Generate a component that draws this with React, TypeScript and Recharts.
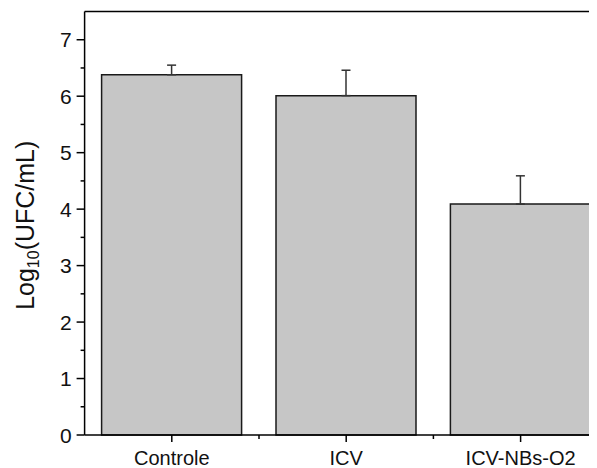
import { BarChart, Bar, XAxis, YAxis, ErrorBar, ReferenceLine, Label } from "recharts"

const categories = ["Controle", "ICV", "ICV-NBs-O2"]
const means = [6.38, 6.01, 4.09]
const errors = [0.17, 0.45, 0.5]
const yTicks = [0, 0.5, 1, 1.5, 2, 2.5, 3, 3.5, 4, 4.5, 5, 5.5, 6, 6.5, 7]

const data = categories.map((name, i) => ({ name, value: means[i], err: [0, errors[i]] }))

const FONT = '"Liberation Sans", Arial, sans-serif'
const INK = "#111"
const Y_TICK_SIZE = 8
const Y_TICK_MARGIN = 5
const X_TICK_SIZE = 7
const X_TICK_MARGIN = 9

function YTick(props: any) {
  const { x, y, payload } = props
  const v = payload.value
  const major = Number.isInteger(v)
  const ax = x + Y_TICK_SIZE + Y_TICK_MARGIN
  return (
    <g>
      <line x1={ax} x2={ax - (major ? Y_TICK_SIZE : 4)} y1={y} y2={y} stroke="#000" strokeWidth={1.5} />
      {major && (
        <text x={x} y={y} dy="0.36em" textAnchor="end" fontSize={21} fontFamily={FONT} fill={INK}>
          {v}
        </text>
      )}
    </g>
  )
}

function XTick(props: any) {
  const { x, y, payload, index, width, visibleTicksCount } = props
  const ay = y - X_TICK_SIZE - X_TICK_MARGIN
  const half = width / visibleTicksCount / 2
  return (
    <g>
      <line x1={x} x2={x} y1={ay} y2={ay + X_TICK_SIZE} stroke="#000" strokeWidth={1.5} />
      {index > 0 && <line x1={x - half} x2={x - half} y1={ay} y2={ay + 4} stroke="#000" strokeWidth={1.5} />}
      <text x={x} y={y} dy="0.71em" textAnchor="middle" fontSize={20} fontFamily={FONT} fill={INK}>
        {payload.value}
      </text>
    </g>
  )
}

function YTitle(props: any) {
  const { viewBox } = props
  const cx = 25.5
  const cy = viewBox.y + viewBox.height / 2 + 2
  return (
    <text
      x={cx}
      y={cy}
      transform={`rotate(-90, ${cx}, ${cy})`}
      textAnchor="middle"
      fontSize={25}
      fontFamily={FONT}
      fill={INK}
    >
      Log
      <tspan fontSize={16} dy={5}>10</tspan>
      <tspan dy={-5}>(UFC/mL)</tspan>
    </text>
  )
}

export default function App() {
  return (
    <div style={{ width: 589, height: 460, overflow: "hidden" }}>
      <BarChart width={610} height={460} data={data} margin={{ top: 3.5, right: 10.2, left: 0, bottom: 0 }}>
        <XAxis
          dataKey="name"
          height={33}
          interval={0}
          tickSize={X_TICK_SIZE}
          tickMargin={X_TICK_MARGIN}
          tickLine={false}
          axisLine={{ stroke: "#000", strokeWidth: 1.5 }}
          tick={<XTick />}
        />
        <YAxis
          width={76.6}
          domain={[0, 7.5]}
          ticks={yTicks}
          interval={0}
          tickSize={Y_TICK_SIZE}
          tickMargin={Y_TICK_MARGIN}
          tickLine={false}
          axisLine={{ stroke: "#000", strokeWidth: 1.5 }}
          tick={<YTick />}
        >
          <Label content={<YTitle />} />
        </YAxis>
        <ReferenceLine y={7.5} stroke="#000" strokeWidth={1.5} />
        <Bar dataKey="value" barSize={140} fill="#c6c6c6" stroke="#1a1a1a" strokeWidth={1.5} isAnimationActive={false}>
          <ErrorBar dataKey="err" direction="y" width={4.5} stroke="#333" strokeWidth={1.5} />
        </Bar>
      </BarChart>
    </div>
  )
}
